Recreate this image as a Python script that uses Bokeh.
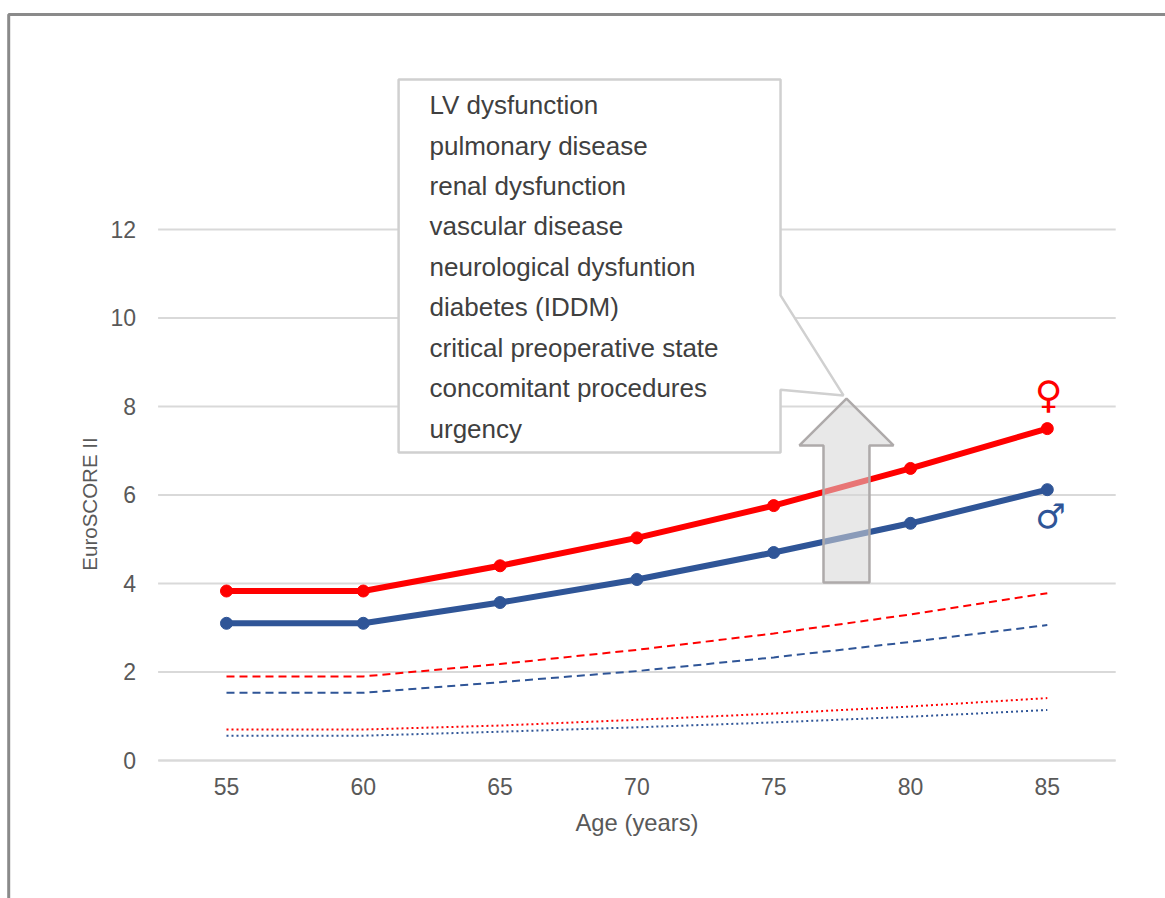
from bokeh.plotting import figure
from bokeh.models import Range1d, FixedTicker, Label
from bokeh.embed import file_html
from bokeh.resources import INLINE

ages = [55, 60, 65, 70, 75, 80, 85]
female_high = [3.83, 3.83, 4.40, 5.03, 5.76, 6.60, 7.50]
male_high = [3.10, 3.10, 3.57, 4.09, 4.70, 5.36, 6.12]
female_mid = [1.90, 1.90, 2.18, 2.50, 2.87, 3.30, 3.78]
male_mid = [1.53, 1.53, 1.77, 2.02, 2.33, 2.68, 3.06]
female_low = [0.70, 0.70, 0.79, 0.92, 1.06, 1.22, 1.41]
male_low = [0.56, 0.56, 0.65, 0.75, 0.86, 0.99, 1.14]
y_ticks = [0, 2, 4, 6, 8, 10, 12]
risk_factors = ["LV dysfunction", "pulmonary disease", "renal dysfunction", "vascular disease",
                "neurological dysfuntion", "diabetes (IDDM)", "critical preoperative state",
                "concomitant procedures", "urgency"]

RED = "#ff0000"
BLUE = "#2f5597"
GREY = "#595959"
FONT = "Liberation Sans"
X0, X1 = 52.5, 87.5

p = figure(width=1165, height=898, output_backend="svg", toolbar_location=None,
           x_range=Range1d(46.74, 89.32), y_range=Range1d(-3.119, 17.175),
           min_border=0, x_axis_label="Age (years)", y_axis_label="EuroSCORE II")
p.outline_line_color = None
p.grid.visible = False
p.background_fill_color = "white"

xax = p.xaxis[0]
yax = p.yaxis[0]
xax.fixed_location = 0
yax.fixed_location = X0
xax.bounds = (X0, X1)
yax.bounds = (-0.4, 12)
xax.ticker = FixedTicker(ticks=ages)
yax.ticker = FixedTicker(ticks=y_ticks)
for ax in (xax, yax):
    ax.major_tick_line_color = None
    ax.minor_tick_line_color = None
    ax.major_label_text_font = FONT
    ax.major_label_text_font_size = "23px"
    ax.major_label_text_color = GREY
    ax.axis_label_text_font = FONT
    ax.axis_label_text_font_style = "normal"
    ax.axis_label_text_color = GREY
xax.axis_label_text_font_size = "23.8px"
yax.axis_label_text_font_size = "20.5px"
xax.axis_line_color = "#d9d9d9"
xax.axis_line_width = 2
yax.axis_line_color = None
xax.major_label_standoff = 12
yax.major_label_standoff = 16
xax.axis_label_standoff = 10
yax.axis_label_standoff = 7

# horizontal rules
p.segment(x0=[X0] * len(y_ticks), x1=[X1] * len(y_ticks), y0=y_ticks, y1=y_ticks,
          line_color="#d9d9d9", line_width=2)

# outer frame of the figure
p.line([47.04, 47.04, 89.4], [-3.2, 16.86, 16.86], line_color="#8a8a8a", line_width=3)

# callout
p.patch([61.29, 75.25, 75.25, 77.55, 75.25, 75.25, 61.29],
        [15.39, 15.39, 10.51, 8.25, 8.38, 6.96, 6.96],
        fill_color="white", line_color="#d0d0d0", line_width=2.5)

# series
p.line(ages, female_low, line_color=RED, line_width=2, line_dash="2 3")
p.line(ages, male_low, line_color=BLUE, line_width=2, line_dash="2 3")
p.line(ages, female_mid, line_color=RED, line_width=2, line_dash="8 5")
p.line(ages, male_mid, line_color=BLUE, line_width=2, line_dash="8 5")
p.line(ages, male_high, line_color=BLUE, line_width=6)
p.scatter(ages, male_high, size=12, color=BLUE)
p.line(ages, female_high, line_color=RED, line_width=6)
p.scatter(ages, female_high, size=12, color=RED)

# upward arrow
p.patch([77.66, 79.38, 78.5, 78.5, 76.82, 76.82, 75.94],
        [8.18, 7.12, 7.12, 4.02, 4.02, 7.12, 7.12],
        fill_color="#d6d6d6", fill_alpha=0.55, line_color="#aeaaaa", line_width=2.5)

# callout text
for i, t in enumerate(risk_factors):
    p.add_layout(Label(x=62.42, y=14.81 - i * 0.9135, text=t, text_font=FONT, text_font_size="26px",
                       text_color="#404040", text_baseline="middle", text_align="left"))

# gender symbols
p.add_layout(Label(x=85.05, y=8.25, text="\u2640", text_font="DejaVu Sans", text_font_size="38px",
                   text_color=RED, text_align="center", text_baseline="middle"))
p.add_layout(Label(x=85.12, y=5.53, text="\u2642", text_font="DejaVu Sans", text_font_size="34px",
                   text_color=BLUE, text_align="center", text_baseline="middle"))

open("out.html", "w").write(file_html(p, INLINE))
